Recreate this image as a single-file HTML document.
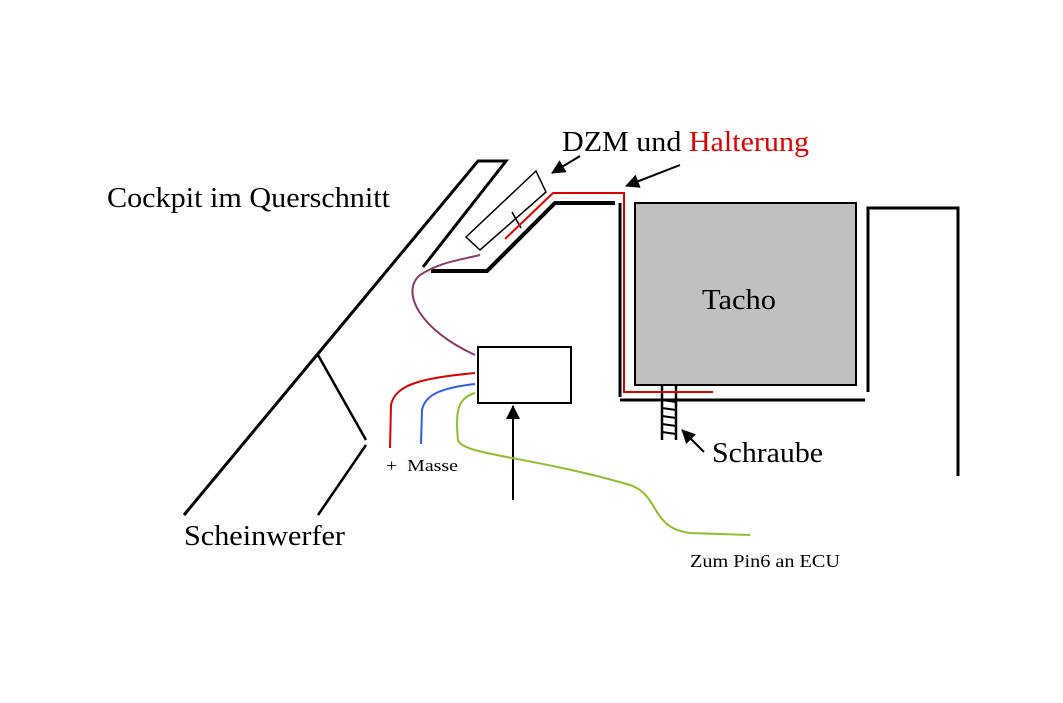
<!DOCTYPE html>
<html><head><meta charset="utf-8"><style>
html,body{margin:0;padding:0;background:#fff;width:1063px;height:703px;overflow:hidden}
svg{display:block}
text{font-family:"Liberation Serif",serif;fill:#000}
</style></head><body>
<svg width="1063" height="703" viewBox="0 0 1063 703" xmlns="http://www.w3.org/2000/svg">
<defs>
<marker id="b" markerWidth="14" markerHeight="14" refX="13" refY="7" orient="auto" markerUnits="userSpaceOnUse"><path d="M0,0 L14,7 L0,14 z" fill="#000"/></marker></defs>
<g stroke="#000" fill="none">
<path d="M184,515 L478,161 L506,161 L423,267" stroke-width="3"/>
<path d="M431,271 L487,271 L555,203 L615,203" stroke-width="4"/>
<path d="M487,271 L555,203" stroke-width="3"/>
<line x1="620" y1="203" x2="620" y2="397" stroke-width="3"/>
<line x1="620" y1="400" x2="865" y2="400" stroke-width="3"/>
<rect x="635" y="203" width="221" height="182" fill="#c0c0c0" stroke-width="2"/>
<path d="M868,392 L868,208 L958,208 L958,476" stroke-width="3"/>
<path d="M318,355 L366,440 M366,445 L318,515" stroke-width="2.5"/>
<polygon points="466,237 536,171 546,192 480,250" stroke-width="1.5"/>
<rect x="478" y="347" width="93" height="56" stroke-width="2"/>
<line x1="513" y1="500" x2="513" y2="406" stroke-width="2" marker-end="url(#b)"/>
<path d="M662,386 L662,440 M676,386 L676,440" stroke-width="2.5"/>
<path d="M662,400 L676,402 M662,408 L676,410 M662,416 L676,418 M662,424 L676,426 M662,432 L676,434" stroke-width="2"/>
<line x1="580" y1="156" x2="552" y2="173" stroke-width="2" marker-end="url(#b)"/>
<line x1="680" y1="165" x2="626" y2="186" stroke-width="2" marker-end="url(#b)"/>
<line x1="704" y1="452" x2="682" y2="430" stroke-width="2" marker-end="url(#b)"/>
<line x1="512" y1="212" x2="521" y2="228" stroke-width="1.5"/>
</g>
<path d="M505,239 L553,193 L624,193 L624,392 L713,392" stroke="#d00" stroke-width="2" fill="none"/>
<path d="M480,255 C460,260 440,262 420,275 C400,292 420,330 475,355" stroke="#8a3a6a" stroke-width="2" fill="none"/>
<path d="M475,373 C420,378 395,385 391,405 L390,448" stroke="#d00" stroke-width="2" fill="none"/>
<path d="M475,384 C440,388 425,395 422,410 L421,444" stroke="#3060e0" stroke-width="2" fill="none"/>
<path d="M475,393 C458,398 455,410 458,440 C462,455 530,456 630,485 C660,495 650,528 690,533 L750,535" stroke="#8cc030" stroke-width="2" fill="none"/>
<text x="107" y="207" font-size="28" textLength="283" lengthAdjust="spacingAndGlyphs">Cockpit im Querschnitt</text>
<text x="562" y="151" font-size="28" textLength="247" lengthAdjust="spacingAndGlyphs">DZM und <tspan fill="#d00">Halterung</tspan></text>
<text x="702" y="309" font-size="28" textLength="74" lengthAdjust="spacingAndGlyphs">Tacho</text>
<text x="712" y="462" font-size="28" textLength="111" lengthAdjust="spacingAndGlyphs">Schraube</text>
<text x="184" y="545" font-size="28" textLength="161" lengthAdjust="spacingAndGlyphs">Scheinwerfer</text>
<text x="386" y="471" font-size="17" textLength="72" lengthAdjust="spacingAndGlyphs">+&#160; Masse</text>
<text x="690" y="567" font-size="18" textLength="150" lengthAdjust="spacingAndGlyphs">Zum Pin6 an ECU</text>
</svg>
</body></html>
